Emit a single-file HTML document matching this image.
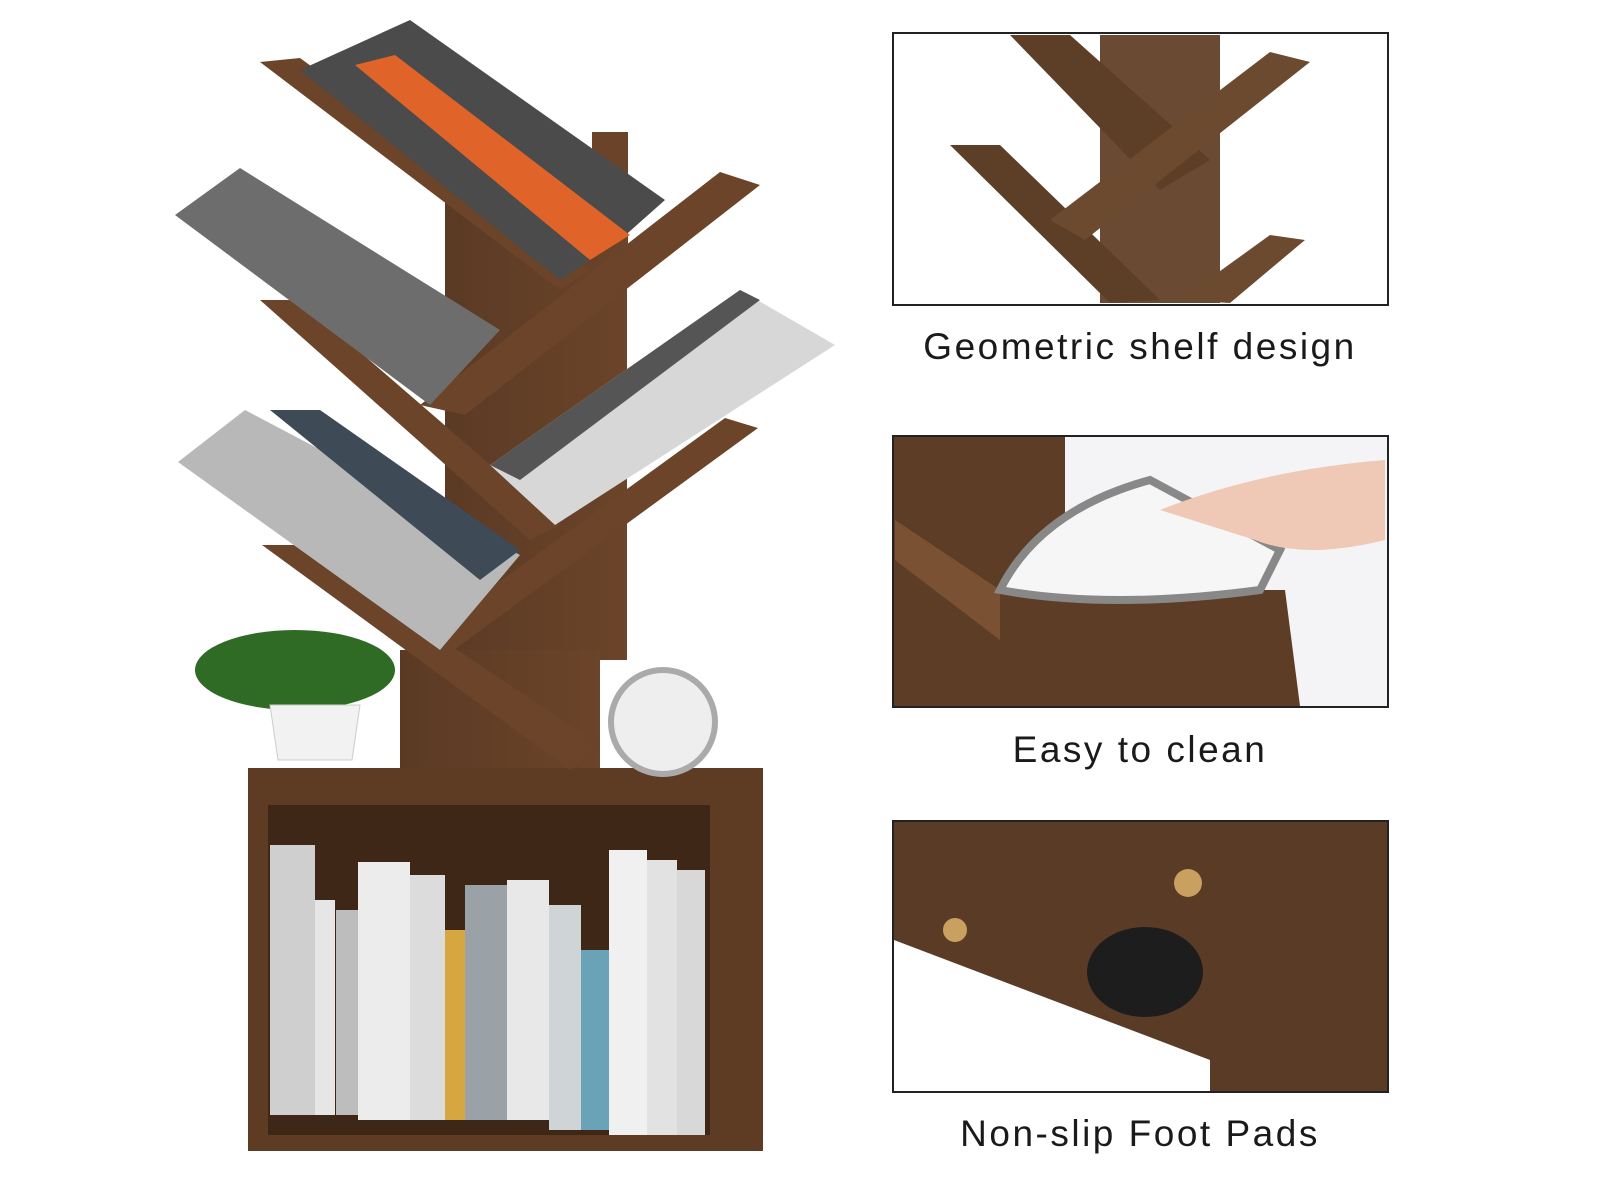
<!DOCTYPE html>
<html><head><meta charset="utf-8"><style>
html,body{margin:0;padding:0;background:#fff;width:1600px;height:1200px;overflow:hidden}
.lbl{position:absolute;font-family:"Liberation Sans",sans-serif;font-size:37px;color:#1a1a1a;letter-spacing:2.5px;text-align:center;width:600px}
</style></head><body>
<svg width="1600" height="1200" style="position:absolute;left:0;top:0">
<defs>
<linearGradient id="w" x1="0" y1="0" x2="1" y2="0"><stop offset="0" stop-color="#5b3a24"/><stop offset="1" stop-color="#6b4429"/></linearGradient>
</defs>
<rect x="592" y="132" width="36" height="120" fill="#6a4328"/>
<rect x="445" y="200" width="182" height="460" fill="url(#w)"/>
<rect x="400" y="650" width="200" height="135" fill="url(#w)"/>
<rect x="248" y="768" width="515" height="383" fill="#5e3b23"/>
<rect x="268" y="805" width="442" height="330" fill="#3e2716"/>
<g>
<rect x="270" y="845" width="45" height="270" fill="#cfcfcf"/>
<rect x="315" y="900" width="20" height="215" fill="#e6e6e6"/>
<rect x="336" y="910" width="22" height="205" fill="#bdbdbd"/>
<rect x="358" y="862" width="52" height="258" fill="#ececec"/>
<rect x="410" y="875" width="35" height="245" fill="#dcdcdc"/>
<rect x="445" y="930" width="20" height="190" fill="#d6a640"/>
<rect x="465" y="885" width="42" height="235" fill="#9aa2a8"/>
<rect x="507" y="880" width="42" height="240" fill="#e8e8e8"/>
<rect x="549" y="905" width="32" height="225" fill="#cfd4d6"/>
<rect x="581" y="950" width="28" height="180" fill="#6aa3b8"/>
<rect x="609" y="850" width="38" height="285" fill="#f0f0f0"/>
<rect x="647" y="860" width="30" height="275" fill="#e2e2e2"/>
<rect x="677" y="870" width="28" height="265" fill="#d8d8d8"/>
</g>
<polygon points="260,62 300,58 590,270 560,290" fill="#6b4429"/>
<polygon points="720,172 760,185 465,415 420,405" fill="#6b4429"/>
<polygon points="260,300 300,300 560,525 530,540" fill="#6b4429"/>
<polygon points="725,418 758,428 440,660 405,650" fill="#6b4429"/>
<polygon points="262,545 300,545 600,745 570,770" fill="#6b4429"/>
<polygon points="300,70 410,20 665,200 620,240 560,280" fill="#4b4b4b"/>
<polygon points="355,65 395,55 630,235 590,260" fill="#e0642a"/>
<polygon points="175,215 240,168 500,330 430,405" fill="#6d6d6d"/>
<polygon points="490,465 740,290 835,345 555,525" fill="#d7d7d7"/>
<polygon points="490,465 740,290 760,300 520,480" fill="#555"/>
<polygon points="178,462 245,410 520,555 440,650" fill="#b8b8b8"/>
<polygon points="270,410 320,410 520,550 480,580" fill="#3e4a56"/>
<ellipse cx="295" cy="670" rx="100" ry="40" fill="#2f6b25"/>
<path d="M270,705 h90 l-8,55 h-74z" fill="#f2f2f2" stroke="#ccc"/>
<circle cx="663" cy="722" r="52" fill="#eee" stroke="#aaa" stroke-width="6"/>
<rect x="893" y="33" width="495" height="272" fill="#fff" stroke="#222" stroke-width="2"/>
<rect x="1100" y="35" width="120" height="268" fill="#6a4a33"/>
<polygon points="1010,35 1070,35 1210,160 1160,190" fill="#5d3e27"/>
<polygon points="950,145 1000,145 1160,300 1110,303" fill="#5d3e27"/>
<polygon points="1050,220 1270,52 1310,62 1085,240" fill="#6b4a30"/>
<polygon points="1180,300 1270,235 1305,240 1230,303" fill="#6b4a30"/>
<rect x="893" y="436" width="495" height="271" fill="#5e3d27" stroke="#222" stroke-width="2"/>
<polygon points="1065,437 1387,437 1387,706 1300,706 1285,590 1065,590" fill="#f4f4f6"/>
<polygon points="895,560 1000,640 1000,590 895,520" fill="#7a5233"/>
<path d="M1000,590 q40,-80 150,-110 l130,70 l-20,40 q-150,20 -260,0z" fill="#f6f6f6" stroke="#888" stroke-width="8"/>
<path d="M1160,510 q100,-40 225,-50 v80 q-80,20 -130,0z" fill="#efc9b6"/>
<rect x="893" y="821" width="495" height="271" fill="#5a3b26" stroke="#222" stroke-width="2"/>
<polygon points="894,940 1210,1060 1210,1091 894,1091" fill="#fff"/>
<ellipse cx="1145" cy="972" rx="58" ry="45" fill="#1d1d1d"/>
<circle cx="955" cy="930" r="12" fill="#c9a060"/>
<circle cx="1188" cy="883" r="14" fill="#c9a060"/>
</svg>
<div class="lbl" style="left:840px;top:326px">Geometric shelf design</div>
<div class="lbl" style="left:840px;top:729px">Easy to clean</div>
<div class="lbl" style="left:840px;top:1113px">Non-slip Foot Pads</div>
</body></html>
